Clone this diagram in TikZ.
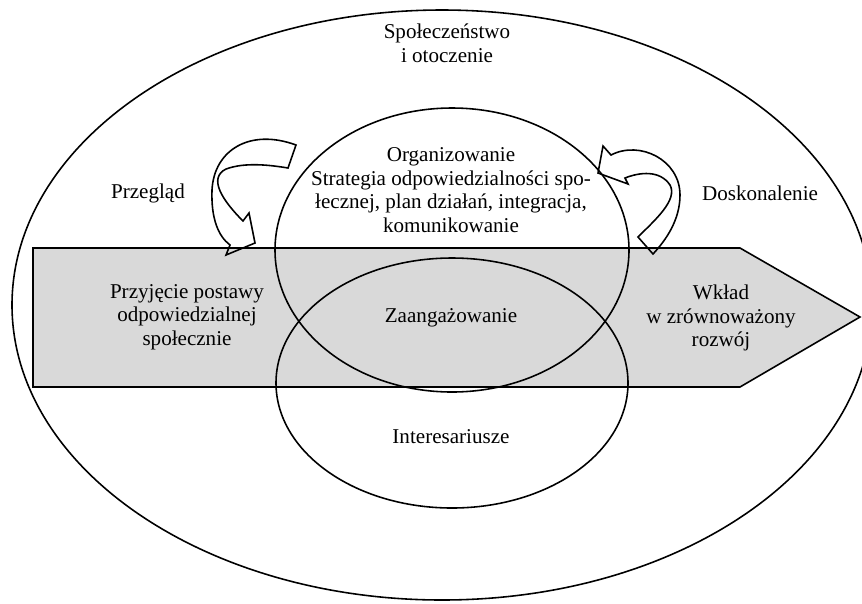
\documentclass[tikz,border=0pt]{standalone}
\usepackage{fontspec}
\setmainfont{Liberation Serif}

\begin{document}
\begin{tikzpicture}[x=0.02cm, y=-0.02cm, line width=0.9pt,
  txt/.style={align=center, font=\fontsize{12}{13.4}\selectfont},
  band/.style={draw, fill=black!15},
  bent/.style={draw, line join=miter}]
\useasboundingbox (0,0) rectangle (862,603);
% society
\draw (442,305) ellipse (430 and 295);
% main band
\draw[band] (33,248) -- (740,248) -- (860,317) -- (740,387) -- (33,387) -- cycle;
% organising and stakeholders
\draw (452,250) ellipse (177 and 142);
\draw (452,383) ellipse (176 and 125);
% review arrow
\draw[bent] (296,145) .. controls (250,128) and (214,150) .. (212,190)
  .. controls (211,218) and (218,236) .. (230,245) -- (226,255) -- (255,243)
  -- (249,213) -- (243,221) .. controls (222,200) and (208,178) .. (226,169)
  .. controls (245,162) and (270,165) .. (288,168) -- cycle;
% improvement arrow
\draw[bent] (611,155) .. controls (640,140) and (680,160) .. (680,195)
  .. controls (680,220) and (666,240) .. (653,254) -- (638,237)
  .. controls (655,220) and (678,200) .. (670,185)
  .. controls (660,170) and (640,172) .. (625,178) -- (628,184)
  -- (598,173) -- (603,146) -- cycle;
% texts
\node[txt] (society) at (447,43) {Społeczeństwo\\i otoczenie};
\node[txt] (organize) at (451,190) {Organizowanie\\Strategia odpowiedzialności spo-\\łecznej, plan działań, integracja,\\komunikowanie};
\node[txt] (review) at (148,193) {Przegląd};
\node[txt] (improve) at (760,193) {Doskonalenie};
\node[txt] (adopt) at (187,317) {Przyjęcie postawy\\odpowiedzialnej\\społecznie};
\node[txt] (commit) at (451,318) {Zaangażowanie};
\node[txt] (contrib) at (721,318) {Wkład\\w zrównoważony\\rozwój};
\node[txt] (stake) at (451,437) {Interesariusze};
\end{tikzpicture}
\end{document}
